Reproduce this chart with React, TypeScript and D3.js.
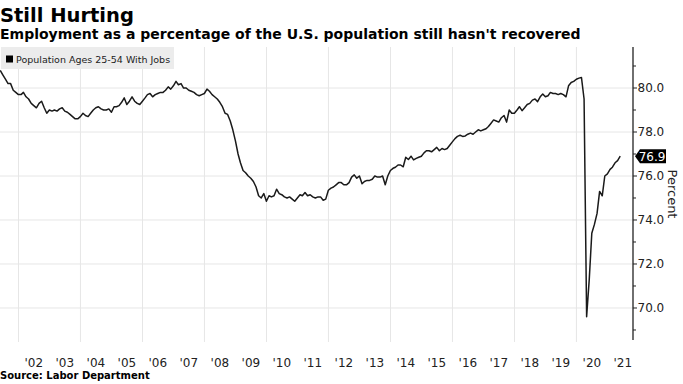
import React, { Component } from "react";
import * as d3 from "d3";

// monthly prime-age employment-population ratio
const y2001 = [80.8, 80.6, 80.4, 80.2, 80.2, 79.9, 79.8, 79.7]; // May..Dec
const y2002 = [79.7, 79.8, 79.6, 79.5, 79.3, 79.2, 79.1, 79.3, 79.4, 79.1, 78.85, 79.0];
const y2003 = [78.95, 79.0, 78.95, 79.05, 79.1, 78.95, 78.9, 78.8, 78.7, 78.6, 78.6, 78.7];
const y2004 = [78.85, 78.75, 78.7, 78.85, 79.0, 79.1, 79.15, 79.05, 79.0, 79.0, 79.05, 78.9];
const y2005 = [79.15, 79.15, 79.2, 79.35, 79.55, 79.25, 79.4, 79.6, 79.4, 79.3, 79.25, 79.4];
const y2006 = [79.55, 79.7, 79.75, 79.6, 79.7, 79.75, 79.8, 79.8, 79.9, 80.05, 79.95, 80.1];
const y2007 = [80.3, 80.15, 80.2, 80.0, 80.0, 79.9, 79.85, 79.8, 79.7, 79.65, 79.7, 79.75];
const y2008 = [79.95, 79.85, 79.7, 79.6, 79.5, 79.35, 79.15, 78.85, 78.8, 78.5, 78.1, 77.6];
const y2009 = [77.0, 76.6, 76.25, 76.15, 76.0, 75.9, 75.75, 75.5, 75.1, 75.0, 75.2, 74.85];
const y2010 = [75.1, 75.05, 75.1, 75.4, 75.2, 75.15, 75.05, 75.0, 75.05, 74.95, 74.85, 75.0];
const y2011 = [75.15, 75.1, 75.25, 75.1, 75.15, 75.05, 75.0, 75.05, 75.05, 74.9, 74.95, 75.35];
const y2012 = [75.45, 75.5, 75.6, 75.7, 75.7, 75.6, 75.6, 75.7, 75.95, 76.05, 75.9, 76.0];
const y2013 = [75.65, 75.75, 75.8, 75.8, 75.85, 76.0, 75.95, 75.95, 76.0, 75.6, 76.0, 76.25];
const y2014 = [76.35, 76.4, 76.5, 76.5, 76.42, 76.85, 76.75, 76.9, 76.73, 76.8, 76.85, 76.9];
const y2015 = [77.05, 77.15, 77.15, 77.1, 77.2, 77.3, 77.15, 77.25, 77.2, 77.25, 77.4, 77.55];
const y2016 = [77.7, 77.8, 77.85, 77.8, 77.82, 77.9, 77.95, 77.9, 78.0, 78.1, 78.05, 78.1];
const y2017 = [78.15, 78.25, 78.4, 78.55, 78.5, 78.45, 78.65, 78.75, 78.45, 79.0, 78.85, 78.85];
const y2018 = [79.0, 79.15, 78.97, 79.1, 79.25, 79.3, 79.45, 79.5, 79.38, 79.6, 79.73, 79.6];
const y2019 = [79.65, 79.8, 79.75, 79.75, 79.7, 79.75, 79.7, 79.6, 80.1, 80.25, 80.3, 80.4];
const y2020 = [80.45, 80.48, 79.5, 69.6, 71.3, 73.4, 73.8, 74.3, 75.3, 75.1, 76.0, 76.1];
const y2021 = [76.3, 76.4, 76.6, 76.7, 76.9]; // Jan..May

const yearly: [number, number, number[]][] = [
  [2001, 4, y2001], [2002, 0, y2002], [2003, 0, y2003], [2004, 0, y2004],
  [2005, 0, y2005], [2006, 0, y2006], [2007, 0, y2007], [2008, 0, y2008],
  [2009, 0, y2009], [2010, 0, y2010], [2011, 0, y2011], [2012, 0, y2012],
  [2013, 0, y2013], [2014, 0, y2014], [2015, 0, y2015], [2016, 0, y2016],
  [2017, 0, y2017], [2018, 0, y2018], [2019, 0, y2019], [2020, 0, y2020],
  [2021, 0, y2021],
];

const majorTicks = [70, 72, 74, 76, 78, 80];
const minorTicks = [69, 71, 73, 75, 77, 79, 81];
const labelYears = d3.range(2002, 2022);
const gridYears = [2002, 2004, 2006, 2008, 2010, 2012, 2014, 2016, 2018, 2020];

const FONT = "'DejaVu Sans', Verdana, sans-serif";

class App extends Component {
  svgRef = React.createRef<SVGSVGElement>();

  componentDidMount() {
    this.draw();
  }

  draw() {
    const svg = d3.select(this.svgRef.current);
    svg.selectAll("*").remove();

    // build series, dated at month end
    var data: { date: Date; value: number }[] = [];
    yearly.forEach(([yr, start, vals]) => {
      vals.forEach((v, i) => {
        data.push({ date: new Date(yr, start + i + 1, 0), value: v });
      });
    });

    const axisX = 633,
      top = 47,
      bottom = 340;

    const x = d3
      .scaleTime()
      .domain([new Date(2002, 0, 1), new Date(2021, 0, 1)])
      .range([18.5, 607.5]);
    const y = d3.scaleLinear().domain([68.545, 81.864]).range([bottom, top]);

    svg
      .append("defs")
      .append("clipPath")
      .attr("id", "plotclip")
      .append("rect")
      .attr("x", 0)
      .attr("y", top)
      .attr("width", axisX)
      .attr("height", bottom - top);

    // grid
    svg
      .append("g")
      .selectAll("line")
      .data(majorTicks)
      .join("line")
      .attr("x1", 0)
      .attr("x2", axisX)
      .attr("y1", (d) => y(d))
      .attr("y2", (d) => y(d))
      .attr("stroke", "#e6e6e6")
      .attr("stroke-width", 1);

    svg
      .append("g")
      .selectAll("line")
      .data(gridYears)
      .join("line")
      .attr("x1", (d) => x(new Date(d, 0, 1)))
      .attr("x2", (d) => x(new Date(d, 0, 1)))
      .attr("y1", top)
      .attr("y2", bottom + 2)
      .attr("stroke", "#e6e6e6")
      .attr("stroke-width", 1);

    // legend box
    const leg = svg.append("g");
    leg
      .append("rect")
      .attr("x", 1)
      .attr("y", 47)
      .attr("width", 173)
      .attr("height", 22)
      .attr("fill", "#ececec");
    leg
      .append("rect")
      .attr("x", 6)
      .attr("y", 55.5)
      .attr("width", 7)
      .attr("height", 7)
      .attr("fill", "#000");
    leg
      .append("text")
      .attr("x", 16)
      .attr("y", 62.5)
      .style("font-family", FONT)
      .style("font-size", "9.5px")
      .attr("fill", "#222")
      .text("Population Ages 25-54 With Jobs");

    // line
    const line = d3
      .line<{ date: Date; value: number }>()
      .x((d) => x(d.date))
      .y((d) => y(d.value));

    svg
      .append("path")
      .datum(data)
      .attr("clip-path", "url(#plotclip)")
      .attr("d", line)
      .attr("fill", "none")
      .attr("stroke", "#1a1a1a")
      .attr("stroke-width", 1.5)
      .attr("stroke-linejoin", "round");

    // right axis
    const ax = svg.append("g");
    ax.append("line")
      .attr("x1", axisX)
      .attr("x2", axisX)
      .attr("y1", top)
      .attr("y2", bottom)
      .attr("stroke", "#222")
      .attr("stroke-width", 1.3);
    ax.selectAll(".maj")
      .data(majorTicks)
      .join("line")
      .attr("class", "maj")
      .attr("x1", axisX)
      .attr("x2", axisX + 4)
      .attr("y1", (d) => y(d))
      .attr("y2", (d) => y(d))
      .attr("stroke", "#222");
    ax.selectAll(".min")
      .data(minorTicks)
      .join("line")
      .attr("class", "min")
      .attr("x1", axisX)
      .attr("x2", axisX + 3)
      .attr("y1", (d) => y(d))
      .attr("y2", (d) => y(d))
      .attr("stroke", "#222");
    ax.selectAll("text")
      .data(majorTicks)
      .join("text")
      .attr("x", axisX + 4.5)
      .attr("y", (d) => y(d))
      .attr("dy", "0.36em")
      .style("font-family", FONT)
      .style("font-size", "12px")
      .attr("fill", "#222")
      .text((d) => d3.format(".1f")(d));

    // last value tag
    const last = data[data.length - 1];
    const ly = y(last.value);
    svg
      .append("path")
      .attr(
        "d",
        `M${axisX + 2},${ly} L${axisX + 7},${ly - 7} H666 V${ly + 7} H${axisX + 7} Z`
      )
      .attr("fill", "#000");
    svg
      .append("text")
      .attr("x", 652)
      .attr("y", ly)
      .attr("dy", "0.36em")
      .attr("text-anchor", "middle")
      .style("font-family", FONT)
      .style("font-size", "12px")
      .attr("fill", "#fff")
      .text(d3.format(".1f")(last.value));

    // axis title
    svg
      .append("text")
      .attr("transform", "translate(673,194) rotate(90)")
      .attr("text-anchor", "middle")
      .attr("dy", "0.36em")
      .style("font-family", FONT)
      .style("font-size", "13px")
      .attr("fill", "#222")
      .text("Percent");

    // x labels
    svg
      .append("g")
      .selectAll("text")
      .data(labelYears)
      .join("text")
      .attr("x", (d) => x(new Date(d, 6, 1)))
      .attr("y", 367)
      .attr("text-anchor", "middle")
      .style("font-family", FONT)
      .style("font-size", "12px")
      .attr("fill", "#222")
      .text((d) => "'" + String(d).slice(2));

    // titles
    svg
      .append("text")
      .attr("x", 0)
      .attr("y", 22)
      .style("font-family", FONT)
      .style("font-size", "19.5px")
      .style("font-weight", "bold")
      .attr("fill", "#000")
      .text("Still Hurting");
    svg
      .append("text")
      .attr("x", 0)
      .attr("y", 38.5)
      .style("font-family", FONT)
      .style("font-size", "14px")
      .style("font-weight", "bold")
      .attr("fill", "#000")
      .text("Employment as a percentage of the U.S. population still hasn't recovered");
    svg
      .append("text")
      .attr("x", 0)
      .attr("y", 379)
      .style("font-family", FONT)
      .style("font-size", "10px")
      .style("font-weight", "bold")
      .attr("fill", "#000")
      .text("Source: Labor Department");
  }

  render() {
    return (
      <svg
        ref={this.svgRef}
        width={683}
        height={384}
        style={{ position: "absolute", left: 0, top: 0, background: "#fff" }}
      />
    );
  }
}

export default App;
